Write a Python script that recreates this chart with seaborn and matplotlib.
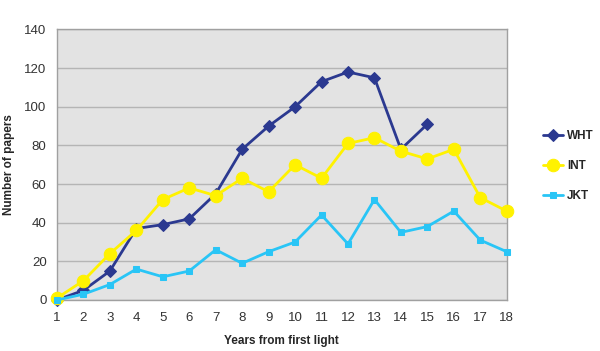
import matplotlib
matplotlib.use("Agg")
import matplotlib.pyplot as plt
import seaborn as sns
import pandas as pd

years_wht = list(range(1, 16))
wht = [0, 5, 15, 37, 39, 42, 55, 78, 90, 100, 113, 118, 115, 78, 91]
years = list(range(1, 19))
intv = [1, 10, 24, 36, 52, 58, 54, 63, 56, 70, 63, 81, 84, 77, 73, 78, 53, 46]
jkt = [0, 3, 8, 16, 12, 15, 26, 19, 25, 30, 44, 29, 52, 35, 38, 46, 31, 25]
yticks = [0, 20, 40, 60, 80, 100, 120, 140]

sns.set_theme(style="white")
plt.rcParams['font.family'] = ['Liberation Sans', 'DejaVu Sans']

fig = plt.figure(figsize=(6, 3.51), dpi=100)
ax = fig.add_axes([0.095, 0.1453, 0.7495, 0.7707])
ax.set_facecolor('#E3E3E3')

series = [
    ("WHT", years_wht, wht, '#2B3990', 'D', 6),
    ("INT", years, intv, '#FFF200', 'o', 9),
    ("JKT", years, jkt, '#29C5F6', 's', 4.5),
]
for name, xs, ys, col, mk, ms in series:
    df = pd.DataFrame({"x": xs, "y": ys})
    sns.lineplot(data=df, x="x", y="y", ax=ax, color=col, marker=mk,
                 markersize=ms, markeredgecolor=col, linewidth=2, label=name,
                 clip_on=False, zorder=3)

ax.set_xlim(1, 18)
ax.set_ylim(0, 140)
ax.set_xticks(years)
ax.set_yticks(yticks)
ax.yaxis.grid(True, color='#B5B5B5', linewidth=1)
ax.set_axisbelow(True)
for s in ax.spines.values():
    s.set_color('#A0A0A0')
    s.set_linewidth(1)
ax.tick_params(axis='both', which='both', direction='out', length=4,
               color='#A0A0A0', labelsize=9.5, labelcolor='#333333', width=1)
ax.tick_params(axis='x', pad=5)
ax.set_xlabel("Years from first light", fontsize=8.5, fontweight='bold')
ax.set_ylabel("Number of papers", fontsize=8.5, fontweight='bold')
ax.xaxis.set_label_coords(0.5, -(340.7 - 300) / 270.5)
ax.yaxis.set_label_coords(-(57 - 9) / 449.7, 0.5)
ax.xaxis.label.set_va('center')
ax.yaxis.label.set_va('center')

leg = ax.legend(loc='center left', bbox_to_anchor=(1.081, 0.495), frameon=False,
                fontsize=8.5, handlelength=1.7, handletextpad=0.35, labelspacing=1.55,
                borderpad=0, borderaxespad=0)
for t in leg.get_texts():
    t.set_fontweight('bold')

fig.savefig("out.png", dpi=100)
